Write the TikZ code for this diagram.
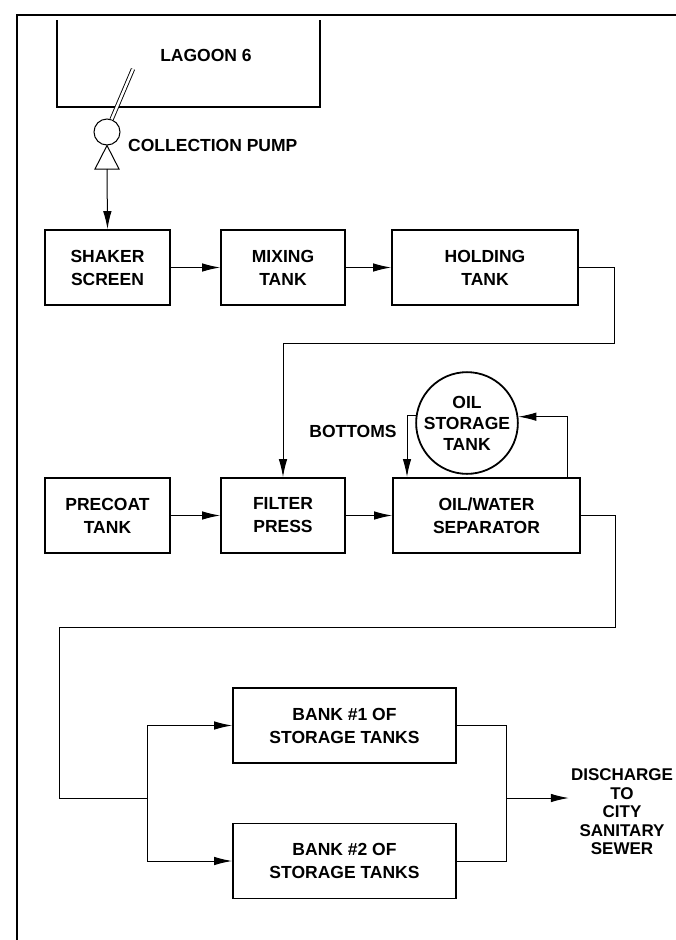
\documentclass[tikz,border=0pt]{standalone}
\usepackage{fontspec}
\setmainfont{Liberation Sans}
\usetikzlibrary{arrows.meta}
\begin{document}
\begin{tikzpicture}[x=1pt,y=-1pt,
  box/.style={draw, line width=1.8pt, minimum width=#1, minimum height=75pt,
    inner sep=0pt, align=center, font=\fontsize{17.5}{23}\selectfont\bfseries},
  lbl/.style={inner sep=0pt, font=\fontsize{17.5}{21}\selectfont\bfseries},
  ln/.style={line width=1pt},
  arr/.style={line width=1pt, -{Latex[length=18pt,width=8.5pt]}}]
\useasboundingbox (0,0) rectangle (676,940);
% frame
\draw[line width=1.5pt] (17,940) -- (17,15) -- (676,15);
% lagoon
\draw[line width=1.2pt] (57,20) -- (57,107) -- (320,107) -- (320,20);
\node[lbl] (lagoon) at (206,55) {LAGOON 6};
% pump
\node[circle, draw, line width=1pt, minimum size=26pt, inner sep=0pt] (pump) at (107,132) {};
\coordinate (pipetop) at (133,69);
\draw[double, double distance=2.5pt, line width=0.9pt] (pipetop) -- (pump.70);
\coordinate (tribase) at (107,169);
\draw[line width=1pt] (pump.south) -- (119,169) -- (95,169) -- cycle;
\node[lbl, anchor=west] (pumplbl) at (128,145) {COLLECTION PUMP};
% boxes
\node[box=125pt] (shaker) at (107.5,267.5) {SHAKER\\SCREEN};
\node[box=124pt] (mixing) at (283,267.5) {MIXING\\TANK};
\node[box=186pt] (holding) at (485,267.5) {HOLDING\\TANK};
\node[box=125pt] (precoat) at (107.5,515.5) {PRECOAT\\TANK};
\node[box=124pt] (filter) at (283,515.5) {FILTER\\PRESS};
\node[box=187pt] (sep) at (486.5,515.5) {OIL/WATER\\SEPARATOR};
\node[circle, draw, line width=1.8pt, minimum size=92pt, inner sep=0pt, align=center,
  font=\fontsize{17.5}{21}\selectfont\bfseries] (oil) at (467,423) {OIL\\STORAGE\\TANK};
\node[lbl] (bottoms) at (353,431) {BOTTOMS};
\node[box=223pt] (bank1) at (344.5,725.5) {BANK \#1 OF\\STORAGE TANKS};
\node[box=223pt] (bank2) at (344.5,861) {BANK \#2 OF\\STORAGE TANKS};
\node[inner sep=2pt, align=center, font=\fontsize{17}{18.5}\selectfont\bfseries] (dis) at (622,812)
  {DISCHARGE\\TO\\CITY\\SANITARY\\SEWER};
% connectors
\draw[arr] (tribase) -- (shaker.north);
\draw[arr] (shaker.east) -- (mixing.west);
\draw[arr] (mixing.east) -- (holding.west);
\coordinate (r1) at (614,343);
\draw[arr] (holding.east) -| (r1) -| (filter.north);
\draw[arr] (precoat.east) -- (filter.west);
\draw[arr] (filter.east) -- (sep.west);
\coordinate (sepR) at (567,477);
\draw[arr] (sepR) |- (oil.7.5);
\coordinate (sepL) at (407,477);
\draw[arr] (oil.172.5) -| (sepL);
\coordinate (c1) at (615,627);
\coordinate (c2) at (59,798);
\coordinate (split) at (147,798);
\draw[ln] (sep.east) -| (c1) -| (c2) -- (split);
\draw[arr] (split) |- (bank1.west);
\draw[arr] (split) |- (bank2.west);
\coordinate (merge) at (506,798);
\draw[ln] (bank1.east) -| (merge);
\draw[ln] (bank2.east) -| (merge);
\draw[arr] (merge) -- (merge -| dis.west);
\end{tikzpicture}
\end{document}
